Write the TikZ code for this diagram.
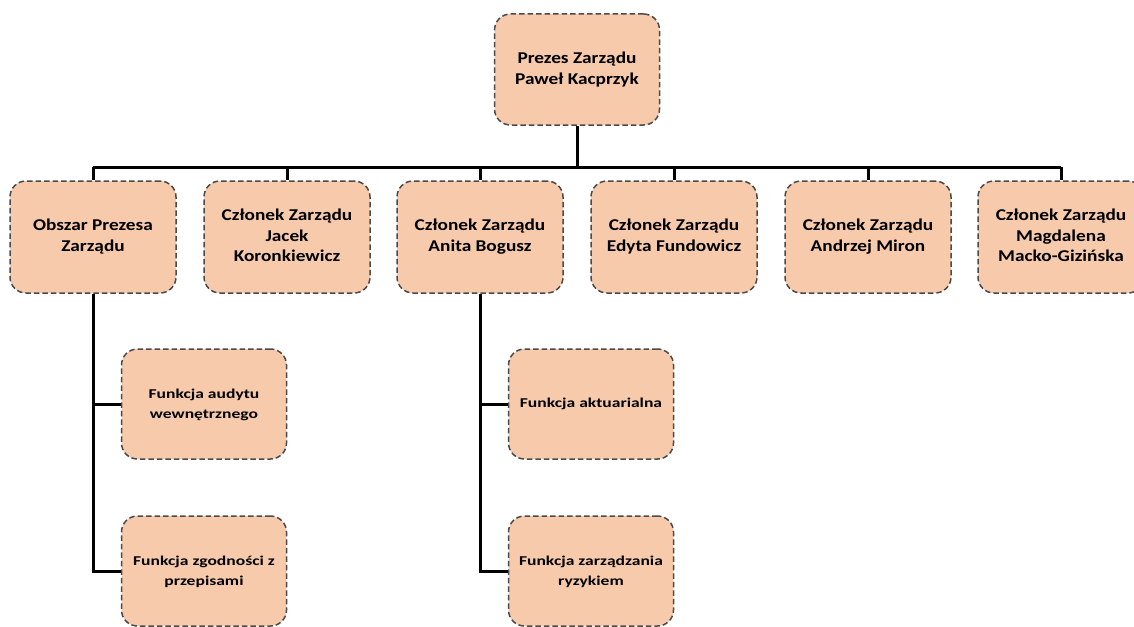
\documentclass[tikz,border=0pt]{standalone}
\usepackage{fontspec}
\newfontfamily\mainf{Carlito}[FakeStretch=1.17]
\newfontfamily\childf{Carlito}[FakeStretch=1.3]
\definecolor{boxfill}{HTML}{F7CAAC}
\definecolor{boxline}{HTML}{4A4A4A}
\begin{document}
\begin{tikzpicture}[x=1pt,y=-1pt,
  orgbox/.style={draw=boxline, fill=boxfill, line width=1.5pt, dash pattern=on 5.5pt off 3pt,
    rounded corners=16pt, minimum width=166pt, minimum height=112pt, align=center, inner sep=0pt,
    font={\mainf\bfseries\fontsize{16.5}{20.5}\selectfont}},
  childbox/.style={orgbox, minimum width=165pt, minimum height=110pt,
    font={\childf\bfseries\fontsize{13.5}{20}\selectfont}},
  conn/.style={line width=3pt, black}]
\useasboundingbox (0,0) rectangle (1134,626);
\node[orgbox, minimum width=165pt, minimum height=111pt] (top) at (577,69.5) {Prezes Zarządu\\Paweł Kacprzyk};
\node[orgbox] (b1) at (93,237) {\raisebox{5pt}{\begin{tabular}{@{}c@{}}Obszar Prezesa\\Zarządu\end{tabular}}};
\node[orgbox] (b2) at (287,237) {\raisebox{2pt}{\begin{tabular}{@{}c@{}}Członek Zarządu\\Jacek\\Koronkiewicz\end{tabular}}};
\node[orgbox] (b3) at (480,237) {\raisebox{5pt}{\begin{tabular}{@{}c@{}}Członek Zarządu\\Anita Bogusz\end{tabular}}};
\node[orgbox] (b4) at (674,237) {\raisebox{5pt}{\begin{tabular}{@{}c@{}}Członek Zarządu\\Edyta Fundowicz\end{tabular}}};
\node[orgbox] (b5) at (868,237) {\raisebox{5pt}{\begin{tabular}{@{}c@{}}Członek Zarządu\\Andrzej Miron\end{tabular}}};
\node[orgbox] (b6) at (1061,237) {\raisebox{4pt}{\begin{tabular}{@{}c@{}}Członek Zarządu\\Magdalena\\Macko-Gizińska\end{tabular}}};
\node[childbox] (c1) at (204,404) {\raisebox{5pt}{\begin{tabular}{@{}c@{}}Funkcja audytu\\wewnętrznego\end{tabular}}};
\node[childbox] (c2) at (204,571) {\raisebox{5pt}{\begin{tabular}{@{}c@{}}Funkcja zgodności z\\przepisami\end{tabular}}};
\node[childbox] (c3) at (591,404) {Funkcja aktuarialna};
\node[childbox] (c4) at (591,571) {\raisebox{5pt}{\begin{tabular}{@{}c@{}}Funkcja zarządzania\\ryzykiem\end{tabular}}};
\coordinate (bus) at (577,167);
\draw[conn] (top.south) -- (top.south |- bus);
\draw[conn] (b1.north |- bus) -- (b6.north |- bus);
\foreach \b in {b1,b2,b3,b4,b5,b6} \draw[conn] (\b.north |- bus) -- (\b.north);
\draw[conn] (b1.south) |- (c1.west);
\draw[conn] (b1.south) |- (c2.west);
\draw[conn] (b3.south) |- (c3.west);
\draw[conn] (b3.south) |- (c4.west);
\end{tikzpicture}
\end{document}
